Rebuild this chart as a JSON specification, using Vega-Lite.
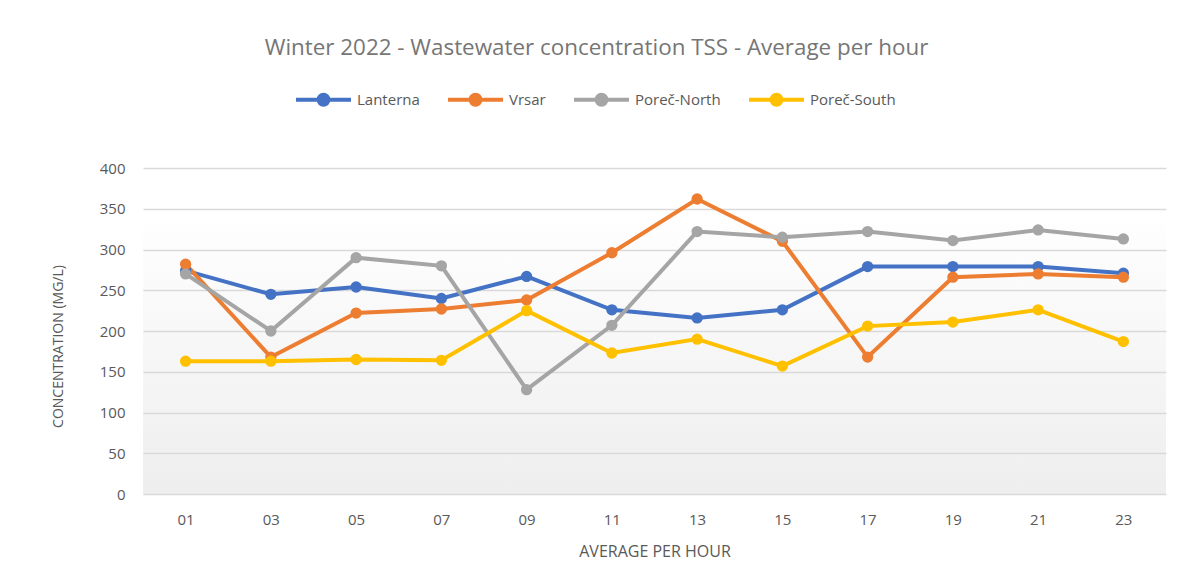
{
  "$schema": "https://vega.github.io/schema/vega-lite/v6.json",
  "width": 1023,
  "height": 326,
  "autosize": {"type": "none"},
  "padding": {"left": 143, "top": 168, "right": 26, "bottom": 94},
  "background": "white",
  "title": {"text": "Winter 2022 - Wastewater concentration TSS - Average per hour", "font": "Open Sans", "fontSize": 22.4, "fontWeight": "normal", "color": "#767676", "anchor": "middle", "dx": -58, "offset": 11},
  "config": {
    "font": "Open Sans",
    "view": {"stroke": null, "fill": {"gradient": "linear", "x1": 0, "y1": 0, "x2": 0, "y2": 1, "stops": [{"offset": 0, "color": "#ffffff"}, {"offset": 0.13, "color": "#ffffff"}, {"offset": 1, "color": "#eeeeee"}]}}
  },
  "data": {"values": [
    {"hour": "01", "site": "Lanterna", "value": 274},
    {"hour": "03", "site": "Lanterna", "value": 245},
    {"hour": "05", "site": "Lanterna", "value": 254},
    {"hour": "07", "site": "Lanterna", "value": 240},
    {"hour": "09", "site": "Lanterna", "value": 267},
    {"hour": "11", "site": "Lanterna", "value": 226},
    {"hour": "13", "site": "Lanterna", "value": 216},
    {"hour": "15", "site": "Lanterna", "value": 226},
    {"hour": "17", "site": "Lanterna", "value": 279},
    {"hour": "19", "site": "Lanterna", "value": 279},
    {"hour": "21", "site": "Lanterna", "value": 279},
    {"hour": "23", "site": "Lanterna", "value": 271},
    {"hour": "01", "site": "Vrsar", "value": 282},
    {"hour": "03", "site": "Vrsar", "value": 168},
    {"hour": "05", "site": "Vrsar", "value": 222},
    {"hour": "07", "site": "Vrsar", "value": 227},
    {"hour": "09", "site": "Vrsar", "value": 238},
    {"hour": "11", "site": "Vrsar", "value": 296},
    {"hour": "13", "site": "Vrsar", "value": 362},
    {"hour": "15", "site": "Vrsar", "value": 310},
    {"hour": "17", "site": "Vrsar", "value": 168},
    {"hour": "19", "site": "Vrsar", "value": 266},
    {"hour": "21", "site": "Vrsar", "value": 270},
    {"hour": "23", "site": "Vrsar", "value": 266},
    {"hour": "01", "site": "Poreč-North", "value": 270},
    {"hour": "03", "site": "Poreč-North", "value": 200},
    {"hour": "05", "site": "Poreč-North", "value": 290},
    {"hour": "07", "site": "Poreč-North", "value": 280},
    {"hour": "09", "site": "Poreč-North", "value": 128},
    {"hour": "11", "site": "Poreč-North", "value": 207},
    {"hour": "13", "site": "Poreč-North", "value": 322},
    {"hour": "15", "site": "Poreč-North", "value": 315},
    {"hour": "17", "site": "Poreč-North", "value": 322},
    {"hour": "19", "site": "Poreč-North", "value": 311},
    {"hour": "21", "site": "Poreč-North", "value": 324},
    {"hour": "23", "site": "Poreč-North", "value": 313},
    {"hour": "01", "site": "Poreč-South", "value": 163},
    {"hour": "03", "site": "Poreč-South", "value": 163},
    {"hour": "05", "site": "Poreč-South", "value": 165},
    {"hour": "07", "site": "Poreč-South", "value": 164},
    {"hour": "09", "site": "Poreč-South", "value": 225},
    {"hour": "11", "site": "Poreč-South", "value": 173},
    {"hour": "13", "site": "Poreč-South", "value": 190},
    {"hour": "15", "site": "Poreč-South", "value": 157},
    {"hour": "17", "site": "Poreč-South", "value": 206},
    {"hour": "19", "site": "Poreč-South", "value": 211},
    {"hour": "21", "site": "Poreč-South", "value": 226},
    {"hour": "23", "site": "Poreč-South", "value": 187}
  ]},
  "encoding": {
    "x": {"field": "hour", "type": "ordinal", "axis": {"title": "AVERAGE PER HOUR", "labelAngle": 0, "labelFontSize": 15, "labelColor": "#595959", "labelPadding": 18, "titleFontSize": 16, "titleFontWeight": "normal", "titleColor": "#595959", "titlePadding": 16, "domain": false, "ticks": false, "grid": false}},
    "y": {"field": "value", "type": "quantitative", "scale": {"domain": [0, 400]}, "axis": {"title": "CONCENTRATION (MG/L)", "values": [0, 50, 100, 150, 200, 250, 300, 350, 400], "labelFontSize": 15, "labelColor": "#595959", "labelPadding": 18, "titleFontSize": 14, "titleFontWeight": "normal", "titleColor": "#595959", "titlePadding": 34, "titleY": 178, "domain": false, "ticks": false, "grid": true, "gridColor": "#d9d9d9", "gridWidth": 1.5}},
    "color": {"field": "site", "type": "nominal", "scale": {"domain": ["Lanterna", "Vrsar", "Poreč-North", "Poreč-South"], "range": ["#4472c4", "#ed7d31", "#a5a5a5", "#ffc000"]}, "legend": {"title": null, "orient": "none", "legendX": 151, "legendY": -98, "direction": "horizontal", "labelFontSize": 15, "labelColor": "#595959", "symbolType": "M-1,0L1,0M0.18,0A0.18,0.18 0 1,1 -0.18,0A0.18,0.18 0 1,1 0.18,0Z", "symbolSize": 3025, "symbolStrokeWidth": 4, "columnPadding": 20, "labelOffset": 4}}
  },
  "layer": [
    {"mark": {"type": "line", "strokeWidth": 4}},
    {"mark": {"type": "point", "filled": true, "size": 128, "opacity": 1}}
  ]
}
